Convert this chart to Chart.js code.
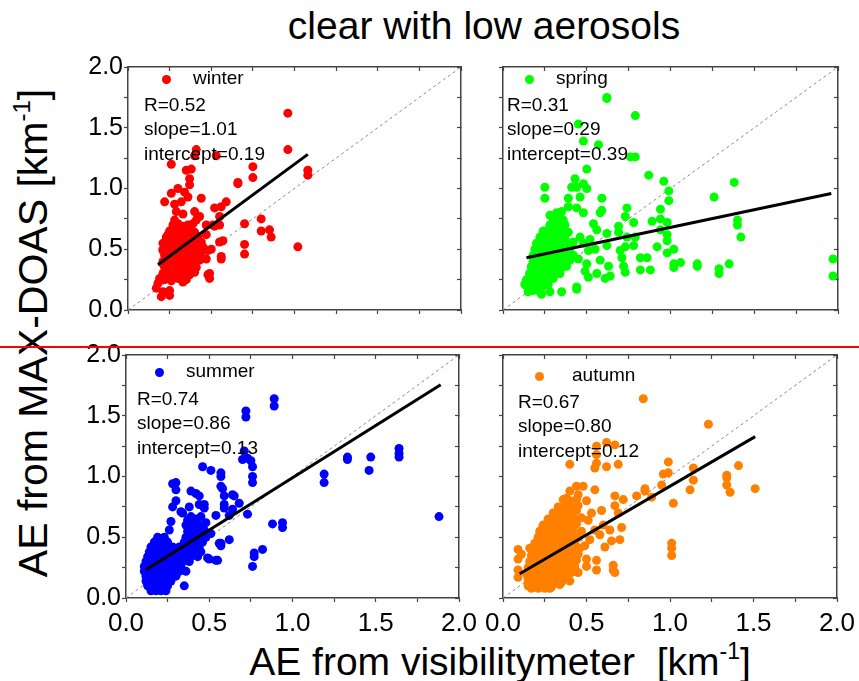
<!DOCTYPE html>
<html>
<head>
<meta charset="utf-8">
<script src="https://cdn.jsdelivr.net/npm/chart.js@4.4.0/dist/chart.umd.min.js"></script>
<style>
  body { margin: 0; background: #fff; width: 859px; height: 681px; position: relative; overflow: hidden;
         font-family: "Liberation Sans", Arial, sans-serif; color: #000; }
  .panel { position: absolute; }
  .txt { position: absolute; white-space: nowrap; }
  .note { position: absolute; white-space: nowrap; font-size: 19px; line-height: 19px; }
  .dot { position: absolute; width: 9px; height: 9px; border-radius: 50%; }
</style>
</head>
<body>
<div class="txt" id="title" style="left:484px;top:6px;font-size:39px;line-height:39px;transform:translateX(-50%)">clear with low aerosols</div>
<div class="txt" id="xlabel" style="left:500px;top:642px;font-size:39px;line-height:39px;transform:translateX(-50%)">AE from visibilitymeter&nbsp;&nbsp;[km<span style="font-size:23px;position:relative;top:-16px">-1</span>]</div>
<div class="txt" id="ylabel" style="left:36px;top:333px;font-size:41px;line-height:41px;transform:translate(-50%,-50%) rotate(-90deg)">AE from MAX-DOAS [km<span style="font-size:24px;position:relative;top:-17px">-1</span>]</div>

<script>
// season names, colours and the fit numbers printed in each panel
const seasons = ["winter", "spring", "summer", "autumn"];
const seasonColors = ["#ff0000", "#00ff00", "#0000ff", "#ff8000"];
const rValues = [0.52, 0.31, 0.74, 0.67];
const slopes = [1.01, 0.29, 0.86, 0.80];
const intercepts = [0.19, 0.39, 0.13, 0.12];
const fitXStart = [0.18, 0.14, 0.12, 0.10];
const fitXEnd = [1.08, 1.96, 1.89, 1.51];
const axisTicks = [0, 0.5, 1.0, 1.5, 2.0];

// scatter points, [visibilitymeter, MAX-DOAS]
const winterPoints = [
  [0.96,1.62],[0.96,1.32],[1.08,1.15],[1.08,1.11],[0.75,1.18],[0.75,1.09],[0.66,1.05],[1.02,0.52],[0.80,0.75],[0.80,0.65],
  [0.85,0.66],[0.86,0.60],[0.70,0.71],[0.70,0.54],[0.70,0.46],[0.59,0.89],[0.56,0.85],[0.52,0.84],[0.55,0.77],[0.55,0.70],
  [0.57,0.57],[0.56,0.44],[0.56,0.42],[0.49,0.30],[0.49,0.26],[0.47,0.42],[0.53,1.27],[0.40,1.27],[0.41,1.32],[0.26,1.20],
  [0.35,1.15],[0.38,1.16],[0.37,1.08],[0.37,1.03],[0.30,1.00],[0.26,0.96],[0.34,0.97],[0.36,0.93],[0.44,0.92],[0.22,0.89],
  [0.28,0.87],[0.32,0.89],[0.40,0.81],[0.42,0.77],[0.43,0.77],[0.33,0.79],[0.28,0.74],[0.51,0.70],[0.52,0.69],[0.47,0.70],
  [0.47,0.62],[0.48,0.49],[0.45,0.52],[0.43,0.47],[0.18,0.22],[0.17,0.18],[0.20,0.11],[0.21,0.15],[0.25,0.16],[0.33,0.23],
  [0.21,0.30],[0.21,0.38],[0.21,0.49],[0.21,0.55],[0.24,0.62],[0.66,1.04],[0.29,0.81],[0.41,0.74],[0.50,0.50],[0.55,0.56],
  [0.48,0.29],[0.23,0.32],[0.25,0.12],[0.19,0.26],
  [0.24,0.30],[0.27,0.29],[0.31,0.31],[0.34,0.30],[0.37,0.29],[0.40,0.31],
  [0.22,0.35],[0.25,0.36],[0.29,0.34],[0.32,0.35],[0.35,0.36],[0.38,0.34],[0.41,0.35],
  [0.21,0.40],[0.24,0.41],[0.27,0.39],[0.30,0.40],[0.33,0.41],[0.36,0.39],[0.39,0.40],[0.43,0.41],
  [0.22,0.45],[0.25,0.44],[0.28,0.46],[0.31,0.45],[0.34,0.44],[0.37,0.46],[0.40,0.45],[0.44,0.44],
  [0.21,0.50],[0.24,0.51],[0.27,0.49],[0.30,0.50],[0.33,0.51],[0.36,0.49],[0.39,0.50],[0.42,0.51],[0.46,0.50],
  [0.22,0.55],[0.25,0.56],[0.28,0.54],[0.31,0.55],[0.34,0.56],[0.37,0.54],[0.40,0.55],[0.44,0.56],
  [0.23,0.60],[0.26,0.61],[0.29,0.59],[0.32,0.60],[0.35,0.61],[0.38,0.59],[0.42,0.60],
  [0.25,0.65],[0.28,0.66],[0.31,0.64],[0.34,0.65],[0.37,0.66],[0.40,0.64],
  [0.27,0.70],[0.30,0.71],[0.33,0.69],[0.36,0.70],[0.39,0.71],
  [0.22,0.25],[0.26,0.24],[0.30,0.26],[0.35,0.25]
];

const springPoints = [
  [0.62,1.75],[0.62,1.74],[0.79,1.60],[0.45,1.53],[0.48,1.39],[0.57,1.36],[0.76,1.26],[0.79,1.26],[0.50,1.16],[0.87,1.11],
  [0.96,1.06],[0.99,0.98],[0.99,0.90],[1.38,1.05],[1.26,0.93],[1.40,0.74],[1.40,0.70],[1.42,0.60],[1.97,0.42],[1.97,0.28],
  [1.35,0.38],[1.29,0.34],[1.29,0.30],[1.16,0.38],[1.16,0.36],[1.06,0.39],[1.02,0.38],[1.02,0.35],[1.02,0.50],[0.98,0.47],
  [0.92,0.52],[0.98,0.57],[0.98,0.62],[0.98,0.72],[0.94,0.66],[0.94,0.75],[0.94,0.83],[0.89,0.73],[0.78,0.72],[0.74,0.84],
  [0.73,0.77],[0.69,0.69],[0.69,0.64],[0.74,0.60],[0.79,0.60],[0.78,0.53],[0.73,0.52],[0.70,0.49],[0.71,0.43],[0.72,0.36],
  [0.73,0.31],[0.82,0.43],[0.86,0.43],[0.82,0.33],[0.88,0.33],[0.62,0.63],[0.62,0.53],[0.58,0.41],[0.63,0.36],[0.61,0.26],
  [0.64,0.28],[0.56,0.30],[0.51,0.27],[0.49,0.32],[0.54,0.71],[0.56,0.66],[0.59,0.92],[0.59,0.82],[0.58,0.80],[0.51,0.49],
  [0.50,0.38],[0.44,0.19],[0.44,0.17],[0.35,0.15],[0.28,0.15],[0.23,0.13],[0.25,1.01],[0.25,0.92],[0.28,0.78],[0.43,1.08],
  [0.41,1.01],[0.44,1.01],[0.48,1.04],[0.50,1.00],[0.46,0.93],[0.39,0.92],[0.44,0.84],[0.48,0.80],[0.39,0.85],[0.34,0.80],
  [0.13,0.21],[0.14,0.25],[0.16,0.30],[0.18,0.22],[0.20,0.18],[0.17,0.36],[0.46,0.60],[0.48,0.55],[0.52,0.58],[0.55,0.50],
  [0.45,0.42],
  [0.15,0.15],[0.18,0.16],[0.22,0.15],
  [0.14,0.20],[0.17,0.21],[0.20,0.19],[0.24,0.20],[0.27,0.21],
  [0.15,0.25],[0.18,0.24],[0.21,0.26],[0.24,0.25],[0.27,0.24],[0.30,0.26],
  [0.16,0.30],[0.19,0.31],[0.22,0.29],[0.25,0.30],[0.28,0.31],[0.31,0.29],[0.34,0.30],
  [0.17,0.35],[0.20,0.36],[0.23,0.34],[0.26,0.35],[0.29,0.36],[0.32,0.34],[0.35,0.35],[0.38,0.36],
  [0.18,0.40],[0.21,0.41],[0.24,0.39],[0.27,0.40],[0.30,0.41],[0.33,0.39],[0.36,0.40],[0.40,0.41],
  [0.18,0.45],[0.21,0.46],[0.24,0.44],[0.27,0.45],[0.30,0.46],[0.33,0.44],[0.36,0.45],[0.39,0.46],[0.42,0.45],
  [0.19,0.50],[0.22,0.51],[0.25,0.49],[0.28,0.50],[0.31,0.51],[0.34,0.49],[0.37,0.50],[0.40,0.51],
  [0.20,0.55],[0.23,0.56],[0.26,0.54],[0.29,0.55],[0.32,0.56],[0.35,0.54],[0.38,0.55],[0.42,0.56],
  [0.22,0.60],[0.25,0.61],[0.28,0.59],[0.31,0.60],[0.34,0.61],[0.37,0.59],
  [0.24,0.65],[0.27,0.66],[0.30,0.64],[0.33,0.65],[0.36,0.66],[0.39,0.64],
  [0.28,0.70],[0.31,0.71],[0.34,0.69],[0.37,0.70],
  [0.30,0.75],[0.33,0.76],[0.36,0.74],
  [0.32,0.80],[0.35,0.81]
];

const summerPoints = [
  [0.89,1.64],[0.89,1.58],[0.72,1.54],[0.72,1.49],[0.71,1.21],[0.70,1.14],[0.73,1.15],[0.75,1.13],[0.76,1.08],[0.76,1.00],
  [0.76,0.95],[0.46,1.08],[0.51,1.05],[0.57,1.03],[0.57,1.00],[0.57,0.92],[0.58,0.90],[0.59,0.84],[0.65,0.84],[0.59,0.77],
  [0.59,0.74],[0.62,0.68],[0.68,0.78],[0.64,0.73],[0.73,0.69],[0.88,0.61],[0.94,0.62],[0.94,0.58],[0.77,0.37],[0.77,0.34],
  [0.82,0.40],[0.76,0.26],[0.62,0.48],[0.57,0.45],[0.57,0.43],[0.54,0.68],[0.51,0.53],[0.50,0.32],[0.54,0.31],[1.19,1.02],
  [1.19,0.95],[1.33,1.16],[1.33,1.14],[1.47,1.16],[1.46,1.05],[1.64,1.23],[1.64,1.19],[1.64,1.16],[1.88,0.67],[0.30,0.95],
  [0.30,0.89],[0.30,0.80],[0.28,0.75],[0.27,0.63],[0.34,0.70],[0.39,0.88],[0.42,0.86],[0.44,0.84],[0.47,0.77],[0.47,0.74],
  [0.39,0.62],[0.42,0.64],[0.37,0.64],[0.48,0.62],[0.36,0.22],[0.35,0.10],[0.28,0.94],[0.38,0.75],[0.44,0.77],[0.39,0.67],
  [0.45,0.67],[0.42,0.59],[0.47,0.56],[0.56,0.45],[0.49,0.33],[0.55,0.31],[0.64,0.85],[0.26,0.56],[0.33,0.71],
  [0.15,0.06],[0.18,0.06],[0.21,0.06],[0.24,0.06],
  [0.13,0.10],[0.16,0.10],[0.19,0.10],[0.22,0.10],[0.25,0.10],
  [0.12,0.14],[0.15,0.14],[0.18,0.14],[0.21,0.14],[0.24,0.14],[0.27,0.14],
  [0.12,0.18],[0.15,0.18],[0.18,0.18],[0.21,0.18],[0.24,0.18],[0.27,0.18],[0.30,0.18],
  [0.11,0.22],[0.14,0.22],[0.17,0.22],[0.20,0.22],[0.23,0.22],[0.26,0.22],[0.29,0.22],[0.32,0.22],
  [0.11,0.26],[0.14,0.26],[0.17,0.26],[0.20,0.26],[0.23,0.26],[0.26,0.26],[0.29,0.26],[0.33,0.26],
  [0.12,0.30],[0.15,0.30],[0.18,0.30],[0.21,0.30],[0.24,0.30],[0.27,0.30],[0.30,0.30],[0.34,0.30],[0.38,0.30],
  [0.13,0.34],[0.16,0.34],[0.19,0.34],[0.22,0.34],[0.25,0.34],[0.28,0.34],[0.31,0.34],[0.35,0.34],[0.39,0.34],[0.43,0.34],
  [0.14,0.38],[0.17,0.38],[0.20,0.38],[0.23,0.38],[0.26,0.38],[0.29,0.38],[0.33,0.38],[0.37,0.38],[0.41,0.38],[0.45,0.38],
  [0.15,0.42],[0.18,0.42],[0.21,0.42],[0.24,0.42],[0.28,0.42],[0.32,0.42],[0.36,0.42],[0.40,0.42],[0.44,0.42],
  [0.17,0.46],[0.21,0.46],[0.25,0.46],[0.35,0.46],[0.38,0.46],[0.42,0.46],[0.46,0.46],
  [0.19,0.50],[0.23,0.50],[0.36,0.50],[0.40,0.50],[0.44,0.50],[0.48,0.50],
  [0.37,0.55],[0.41,0.55],[0.45,0.55],
  [0.36,0.60],[0.40,0.60],[0.44,0.60],
  [0.38,0.65],[0.42,0.65]
];

const autumnPoints = [
  [0.84,1.64],[1.23,1.43],[0.62,1.28],[0.67,1.26],[0.56,1.25],[0.56,1.18],[0.40,1.10],[0.56,1.11],[0.55,1.07],[0.62,1.08],
  [0.69,1.10],[0.99,1.12],[0.96,1.02],[0.99,1.03],[0.95,0.93],[1.14,1.07],[1.14,0.97],[1.12,0.89],[1.41,1.09],[1.34,1.01],
  [1.34,0.99],[1.34,0.93],[1.36,0.87],[1.51,0.90],[1.02,0.78],[1.01,0.45],[1.01,0.41],[1.01,0.35],[0.85,0.90],[0.85,0.88],
  [0.89,0.83],[0.80,0.84],[0.67,0.84],[0.67,0.76],[0.72,0.81],[0.69,0.70],[0.71,0.58],[0.70,0.48],[0.65,0.47],[0.64,0.56],
  [0.61,0.42],[0.66,0.27],[0.66,0.23],[0.67,0.21],[0.56,0.31],[0.56,0.23],[0.59,0.72],[0.55,0.89],[0.48,0.92],[0.44,0.92],
  [0.40,0.88],[0.36,0.81],[0.33,0.72],[0.28,0.62],[0.24,0.59],[0.09,0.40],[0.09,0.32],[0.09,0.23],[0.09,0.17],[0.11,0.36],
  [0.16,0.41],[0.15,0.10],[0.21,0.08],[0.28,0.08],[0.34,0.11],[0.40,0.14],[0.45,0.21],[0.50,0.26],[0.50,0.32],[0.52,0.48],
  [0.49,0.43],[0.51,0.64],[0.53,0.70],[0.38,0.82],[0.45,0.85],[0.50,0.80],[0.55,0.56],[0.60,0.60],[0.58,0.52],[0.47,0.66],
  [0.44,0.72],
  [0.17,0.08],[0.21,0.09],[0.25,0.08],[0.29,0.09],
  [0.15,0.12],[0.19,0.13],[0.23,0.12],[0.27,0.13],[0.31,0.12],[0.35,0.13],
  [0.15,0.16],[0.18,0.17],[0.22,0.16],[0.26,0.17],[0.30,0.16],[0.34,0.17],[0.38,0.16],
  [0.14,0.20],[0.18,0.21],[0.22,0.20],[0.25,0.21],[0.29,0.20],[0.33,0.21],[0.37,0.20],[0.41,0.21],
  [0.15,0.25],[0.19,0.26],[0.23,0.25],[0.27,0.26],[0.31,0.25],[0.35,0.26],[0.39,0.25],[0.43,0.26],
  [0.16,0.30],[0.20,0.31],[0.24,0.30],[0.28,0.31],[0.32,0.30],[0.36,0.31],[0.40,0.30],[0.44,0.31],
  [0.17,0.35],[0.21,0.36],[0.25,0.35],[0.29,0.36],[0.33,0.35],[0.37,0.36],[0.41,0.35],[0.45,0.36],
  [0.18,0.40],[0.22,0.41],[0.26,0.40],[0.30,0.41],[0.34,0.40],[0.38,0.41],[0.42,0.40],[0.46,0.41],
  [0.19,0.45],[0.23,0.46],[0.27,0.45],[0.31,0.46],[0.35,0.45],[0.39,0.46],[0.43,0.45],
  [0.21,0.50],[0.25,0.51],[0.29,0.50],[0.33,0.51],[0.37,0.50],[0.41,0.51],[0.45,0.50],
  [0.22,0.55],[0.26,0.56],[0.30,0.55],[0.34,0.56],[0.38,0.55],[0.42,0.56],[0.47,0.55],
  [0.24,0.60],[0.28,0.61],[0.32,0.60],[0.36,0.61],[0.40,0.60],[0.44,0.61],
  [0.27,0.65],[0.31,0.66],[0.35,0.65],[0.39,0.66],[0.43,0.65],
  [0.30,0.70],[0.34,0.71],[0.38,0.70],[0.42,0.71],
  [0.33,0.75],[0.37,0.76],[0.41,0.75],[0.45,0.76],
  [0.40,0.80],[0.44,0.81]
];

const seasonPoints = [winterPoints, springPoints, summerPoints, autumnPoints];

// where each panel's plot box sits on the page (pixels)
const panels = [
  { left: 128, top: 67, right: 461, bottom: 310, showX: false, showY: true,  dot: [166, 79],  label: 193, note: [144, 104] },
  { left: 503, top: 67, right: 838, bottom: 310, showX: false, showY: false, dot: [529, 79],  label: 556, note: [507, 104] },
  { left: 126, top: 355, right: 459, bottom: 598, showX: true,  showY: true,  dot: [159, 372], label: 186, note: [137, 398] },
  { left: 503, top: 355, right: 837, bottom: 598, showX: true,  showY: false, dot: [539, 376], label: 572, note: [518, 401] }
];

const FONT = '"Liberation Sans", Arial, sans-serif';
const AXIS = "#444444";
const PAD_TOP = 18, PAD_RIGHT = 25, LEFT_W = 68;

Chart.defaults.font.family = FONT;
Chart.defaults.color = "#000";

function majorLabel(v) {
  for (const t of axisTicks) {
    if (Math.abs(v - t) < 1e-6) return t.toFixed(1);
  }
  return "";
}

function addText(cls, x, y, html, extra) {
  const d = document.createElement("div");
  d.className = cls;
  d.style.left = x + "px";
  d.style.top = y + "px";
  d.innerHTML = html;
  if (extra) Object.assign(d.style, extra);
  document.body.appendChild(d);
  return d;
}

panels.forEach((p, i) => {
  const bottomH = p.showX ? 45 : 20;
  const plotW = p.right - p.left;
  const plotH = p.bottom - p.top;
  const wrap = document.createElement("div");
  wrap.className = "panel";
  wrap.style.left = (p.left - LEFT_W) + "px";
  wrap.style.top = (p.top - PAD_TOP) + "px";
  const cv = document.createElement("canvas");
  cv.width = plotW + LEFT_W + PAD_RIGHT;
  cv.height = plotH + PAD_TOP + bottomH;
  wrap.appendChild(cv);
  document.body.appendChild(wrap);

  const fitLine = [fitXStart[i], fitXEnd[i]].map(x => ({ x: x, y: intercepts[i] + slopes[i] * x }));

  new Chart(cv, {
    type: "scatter",
    data: {
      datasets: [
        {
          data: fitLine, showLine: true, borderColor: "#000", borderWidth: 3,
          pointRadius: 0, xAxisID: "x", yAxisID: "y"
        },
        {
          data: seasonPoints[i].map(d => ({ x: d[0], y: d[1] })),
          backgroundColor: seasonColors[i], borderWidth: 0,
          pointRadius: 4.5, pointHoverRadius: 4.5, xAxisID: "x", yAxisID: "y"
        },
        {
          data: [{ x: 0, y: 0 }, { x: 2, y: 2 }], showLine: true,
          borderColor: "#8a8a8a", borderWidth: 1, borderDash: [3, 3],
          pointRadius: 0, xAxisID: "x", yAxisID: "y"
        }
      ]
    },
    options: {
      responsive: false,
      devicePixelRatio: 1,
      animation: false,
      layout: { padding: { top: PAD_TOP, right: PAD_RIGHT, bottom: 0, left: 0 } },
      plugins: { legend: { display: false }, tooltip: { enabled: false } },
      scales: {
        x: {
          type: "linear", position: "bottom", min: 0, max: 2,
          ticks: {
            stepSize: 0.25, autoSkip: false, maxRotation: 0, padding: 6,
            font: { size: 26 }, color: "#000",
            callback: v => (p.showX ? majorLabel(v) : "")
          },
          grid: { drawOnChartArea: false, tickLength: 4, tickColor: AXIS, tickWidth: 1.2 },
          border: { color: AXIS, width: 1.5 },
          afterFit: s => { s.height = bottomH; }
        },
        y: {
          type: "linear", position: "left", min: 0, max: 2,
          ticks: {
            stepSize: 0.25, autoSkip: false, padding: 1,
            font: { size: 25 }, color: "#000",
            callback: v => (p.showY ? majorLabel(v) : "")
          },
          grid: { drawOnChartArea: false, tickLength: 4, tickColor: AXIS, tickWidth: 1.2 },
          border: { color: AXIS, width: 1.5 },
          afterFit: s => { s.width = LEFT_W; }
        },
        x2: {
          type: "linear", position: "top", min: 0, max: 2,
          ticks: { stepSize: 0.25, autoSkip: false, padding: 0, callback: () => "" },
          grid: { drawOnChartArea: false, tickLength: -4, tickColor: AXIS, tickWidth: 1.2 },
          border: { color: AXIS, width: 1.5 },
          afterFit: s => { s.height = 0; }
        },
        y2: {
          type: "linear", position: "right", min: 0, max: 2,
          ticks: { stepSize: 0.25, autoSkip: false, padding: 0, callback: () => "" },
          grid: { drawOnChartArea: false, tickLength: -4, tickColor: AXIS, tickWidth: 1.2 },
          border: { color: AXIS, width: 1.5 },
          afterFit: s => { s.width = 0; }
        }
      }
    }
  });

  // legend marker, season name and the fit statistics
  addText("dot", p.dot[0] - 4.5, p.dot[1] - 4.5, "", { background: seasonColors[i] });
  addText("note", p.label, p.dot[1] - 11, seasons[i]);
  const lines = ["R=" + rValues[i].toFixed(2), "slope=" + slopes[i].toFixed(2), "intercept=" + intercepts[i].toFixed(2)];
  lines.forEach((t, k) => addText("note", p.note[0], p.note[1] - 9.5 + k * 24.5, t));
});

// red separator line across the figure
addText("txt", 0, 346, "", { width: "859px", height: "2px", background: "#ff0000" });
</script>
</body>
</html>
